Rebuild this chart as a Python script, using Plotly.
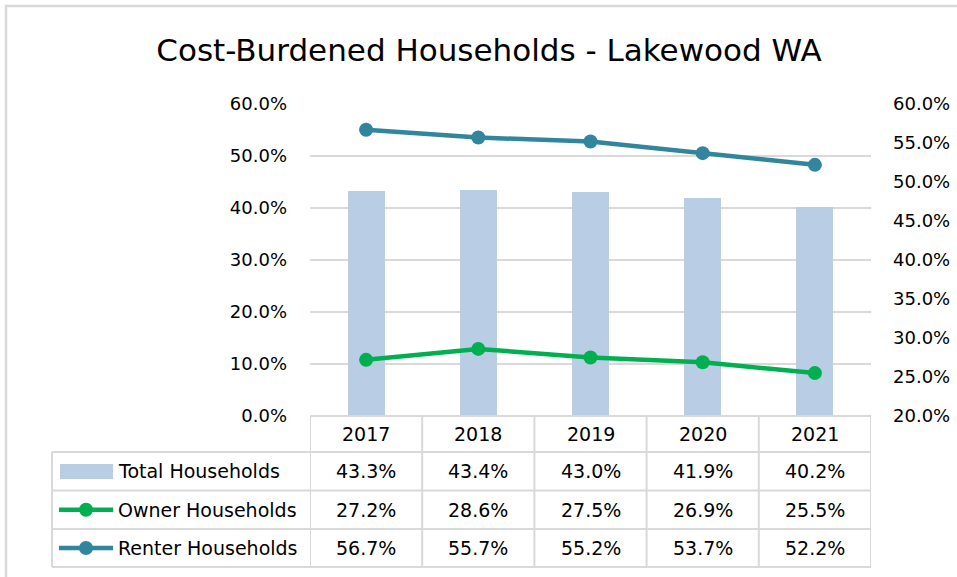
import plotly.graph_objects as go

years = ["2017", "2018", "2019", "2020", "2021"]
total_households = [0.433, 0.434, 0.430, 0.419, 0.402]
owner_households = [0.272, 0.286, 0.275, 0.269, 0.255]
renter_households = [0.567, 0.557, 0.552, 0.537, 0.522]
series_names = ["Total Households", "Owner Households", "Renter Households"]

BAR_C = "#B9CDE5"
OWN_C = "#00B050"
REN_C = "#31859C"
GRID_C = "#D9D9D9"
FONT = "DejaVu Sans"

W, H = 957, 577
L, R, T, B = 310, 86, 104, 161
PW = W - L - R
PH = H - T - B


def px_x(p):
    return (p - L) / PW


def px_y(p):
    return (H - B - p) / PH


fig = go.Figure()
fig.add_trace(go.Bar(x=years, y=total_households, name=series_names[0],
                     marker=dict(color=BAR_C, line=dict(width=0)), width=0.33,
                     yaxis="y"))
fig.add_trace(go.Scatter(x=years, y=owner_households, name=series_names[1],
                         mode="lines+markers", line=dict(color=OWN_C, width=4.5),
                         marker=dict(size=14, color=OWN_C), yaxis="y2"))
fig.add_trace(go.Scatter(x=years, y=renter_households, name=series_names[2],
                         mode="lines+markers", line=dict(color=REN_C, width=4.5),
                         marker=dict(size=14, color=REN_C), yaxis="y2"))

shapes = []
line_style = dict(color=GRID_C, width=2)
# chart border
shapes.append(dict(type="rect", xref="paper", yref="paper",
                   x0=px_x(6), x1=px_x(990), y0=px_y(610), y1=px_y(6),
                   line=dict(color=GRID_C, width=2.5), layer="below"))

n = len(years)
row_lines = [H - B, 452, 490.5, 529, 567]
# horizontal lines
shapes.append(dict(type="line", xref="paper", yref="paper",
                   x0=0, x1=1, y0=px_y(row_lines[0]), y1=px_y(row_lines[0]), line=line_style))
for yy in row_lines[1:]:
    shapes.append(dict(type="line", xref="paper", yref="paper",
                       x0=px_x(52), x1=1, y0=px_y(yy), y1=px_y(yy), line=line_style))
# vertical lines
shapes.append(dict(type="line", xref="paper", yref="paper",
                   x0=px_x(52), x1=px_x(52), y0=px_y(row_lines[1]), y1=px_y(row_lines[-1]),
                   line=line_style))
for k in range(n + 1):
    shapes.append(dict(type="line", xref="x", yref="paper",
                       x0=k - 0.5, x1=k - 0.5, y0=px_y(row_lines[0]), y1=px_y(row_lines[-1]),
                       line=line_style))

row_centers = [(row_lines[i] + row_lines[i + 1]) / 2 for i in range(4)]

# legend keys
shapes.append(dict(type="rect", xref="paper", yref="paper",
                   x0=px_x(60), x1=px_x(113), y0=px_y(479), y1=px_y(464),
                   fillcolor=BAR_C, line=dict(width=0)))
for i, c in [(2, OWN_C), (3, REN_C)]:
    yc = px_y(row_centers[i])
    shapes.append(dict(type="line", xref="paper", yref="paper",
                       x0=px_x(59), x1=px_x(113), y0=yc, y1=yc,
                       line=dict(color=c, width=4.5)))
    shapes.append(dict(type="circle", xref="paper", yref="paper",
                       xsizemode="pixel", ysizemode="pixel",
                       xanchor=px_x(86), yanchor=yc, x0=-7, x1=7, y0=-7, y1=7,
                       fillcolor=c, line=dict(width=0)))

annotations = []
tfont = dict(family=FONT, size=19, color="#000000")
for j, yr in enumerate(years):
    annotations.append(dict(x=j, xref="x", y=px_y(row_centers[0]), yref="paper",
                            text=yr, showarrow=False, font=tfont,
                            xanchor="center", yanchor="middle"))
for i, (name, vals) in enumerate(zip(series_names,
                                     [total_households, owner_households, renter_households])):
    yc = px_y(row_centers[i + 1])
    annotations.append(dict(x=px_x(116), xref="paper", y=yc, yref="paper",
                            text=name, showarrow=False, font=tfont,
                            xanchor="left", yanchor="middle"))
    for j, v in enumerate(vals):
        annotations.append(dict(x=j, xref="x", y=yc, yref="paper",
                                text=f"{v * 100:.1f}%", showarrow=False, font=tfont,
                                xanchor="center", yanchor="middle"))

fig.update_layout(
    width=W, height=H,
    margin=dict(l=L, r=R, t=T, b=B, autoexpand=False),
    paper_bgcolor="white", plot_bgcolor="white",
    showlegend=False,
    title=dict(text="Cost-Burdened Households - Lakewood WA",
               x=489 / W, xref="container", xanchor="center",
               y=1 - 50 / H, yref="container", yanchor="middle",
               font=dict(family=FONT, size=31, color="#000000")),
    font=dict(family=FONT, size=18, color="#000000"),
    xaxis=dict(type="category", range=[-0.5, n - 0.5], showticklabels=False,
               showgrid=False, zeroline=False, showline=False, ticks="",
               automargin=False),
    yaxis=dict(range=[0, 0.6], dtick=0.1, tickformat=".1%", showgrid=True,
               gridcolor=GRID_C, gridwidth=2, zeroline=False, showline=False,
               ticks="", ticklabelstandoff=22, automargin=False,
               tickfont=dict(family=FONT, size=18, color="#000000")),
    yaxis2=dict(range=[0.2, 0.6], dtick=0.05, tickformat=".1%", overlaying="y",
                side="right", showgrid=False, zeroline=False, showline=False,
                ticks="", ticklabelstandoff=21, automargin=False,
                tickfont=dict(family=FONT, size=18, color="#000000")),
    shapes=shapes,
    annotations=annotations,
    bargap=0,
)

fig.write_html("out.html", config={"displayModeBar": False},
               post_script="document.body.style.margin='0';document.body.style.overflow='hidden';")
